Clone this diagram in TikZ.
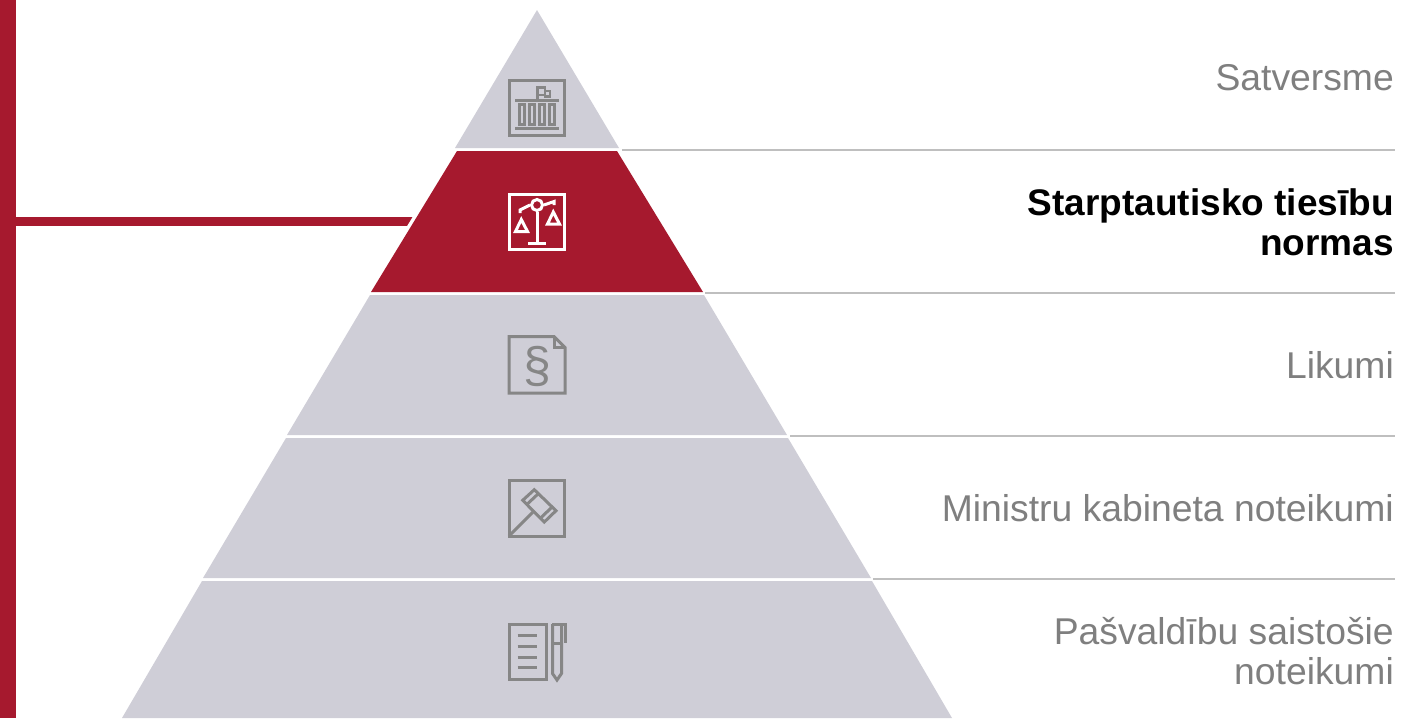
\documentclass[tikz,border=0pt]{standalone}
\usepackage{amsmath,fontspec}
\setmainfont{Liberation Sans}
\definecolor{lawred}{HTML}{A6192E}
\definecolor{bandgrey}{HTML}{CFCED7}
\definecolor{icongrey}{HTML}{868686}
\definecolor{labelgrey}{HTML}{7F7F7F}
\definecolor{rulegrey}{HTML}{BFBFBF}
\tikzset{
  band/.style={fill=bandgrey},
  level/.style={anchor=east,align=right,text=labelgrey,inner sep=0pt,font=\fontsize{37.3}{40}\selectfont},
  levelrule/.style={draw=rulegrey,line width=2.5pt},
  iconbox/.style={draw,line width=3pt,minimum width=55.5pt,minimum height=55.5pt,inner sep=0pt,outer sep=0pt},
  iconline/.style={line width=3pt,draw=icongrey},
  iconwhite/.style={line width=3pt,draw=white}
}
\begin{document}
\begin{tikzpicture}[x=1pt,y=-1pt]
\useasboundingbox (0,0) rectangle (1422,718);

\node[fill=lawred,minimum width=16pt,minimum height=718pt,inner sep=0pt] (spine) at (8,359) {};
\coordinate (hook) at (420,221.5);
\draw[draw=lawred,line width=8.5pt] (spine.east |- hook) -- (hook);

\fill[lawred,preaction={draw=white,line width=7pt}] (457,151) -- (617,151) -- (703,292) -- (371,292) -- cycle;
\fill[band] (537,10) -- (619,148) -- (455,148) -- cycle;
\fill[band] (370,295) -- (704,295) -- (787,435) -- (287,435) -- cycle;
\fill[band] (286,438) -- (788,438) -- (871,578) -- (203,578) -- cycle;
\fill[band] (202,581) -- (872,581) -- (952,718) -- (122,718) -- cycle;

\begin{scope}[every node/.style={level}]
    \node (l1) at (1394,77.5) {Satversme};
    \node[text=black,font=\fontsize{37}{40}\selectfont\bfseries] (l2) at (1394,222) {Starptautisko tiesību\\normas};
    \node (l3) at (1394,365) {Likumi};
    \node (l4) at (1394,508) {Ministru kabineta noteikumi};
    \node (l5) at (1394,651) {Pašvaldību saistošie\\noteikumi};
\end{scope}

\coordinate (a1) at (622,150);
\coordinate (b1) at (1395,150);
\coordinate (a2) at (705,293);
\coordinate (b2) at (1395,293);
\coordinate (a3) at (790,436);
\coordinate (b3) at (1395,436);
\coordinate (a4) at (873,579);
\coordinate (b4) at (1395,579);
\draw[levelrule] (a1) -- (b1);
\draw[levelrule] (a2) -- (b2);
\draw[levelrule] (a3) -- (b3);
\draw[levelrule] (a4) -- (b4);

\node[iconbox,draw=icongrey] (i1) at (537,108) {};
\draw[iconline] (515,100) -- (559,100);
\draw[iconline] (515,128) -- (559,128);
\draw[iconline] (519,104.5) rectangle (524.5,124.5);
\draw[iconline] (529,104.5) rectangle (534.5,124.5);
\draw[iconline] (539,104.5) rectangle (544.5,124.5);
\draw[iconline] (549,104.5) rectangle (554.5,124.5);
\draw[iconline,line width=2.5pt] (537.5,100) -- (537.5,87.5) -- (545,87.5) -- (545,95) -- (537.5,95);
\draw[iconline,line width=2.5pt] (545,91) -- (550,91) -- (550,96.5) -- (545,96.5) -- (545,95);

\node[iconbox,draw=white] (i2) at (537,222) {};
\node[circle,draw=white,line width=3pt,minimum size=11pt,inner sep=0pt] (pivot) at (537,205) {};
\draw[iconwhite] (pivot.south) -- (537,243.5);
\draw[iconwhite] (528,243.5) -- (546,243.5);
\draw[iconwhite] (pivot.west) -- (520,210) -- (520,213);
\draw[iconwhite] (pivot.east) -- (554,201.5) -- (554,205);
\draw[iconwhite] (521.3,219.5) -- (515.5,231.5) -- (527.5,231.5) -- cycle;
\draw[iconwhite] (553.3,212) -- (547.5,224) -- (559.5,224) -- cycle;

\draw[iconline] (554,336.5) -- (509,336.5) -- (509,393) -- (565,393) -- (565,347.5) -- cycle;
\draw[iconline] (554,336.5) -- (554,347.5) -- (565,347.5);
\node[text=icongrey,font=\fontsize{50}{50}\selectfont,inner sep=0pt] (i3) at (537,366) {§};

\node[iconbox,draw=icongrey] (i4) at (537,508.5) {};
\draw[iconline] (509,536) -- (532.7,512.3);
\draw[iconline] (534.3,489.7) -- (556,510.7) -- (544.3,522) -- (522.7,500.3) -- cycle;
\draw[iconline] (538.5,493.5) -- (526.8,504.5);
\draw[iconline] (552,507) -- (540.7,518);

\draw[iconline] (509,624) rectangle (546,679.5);
\draw[iconline] (517.5,635) -- (536.5,635);
\draw[iconline] (517.5,646) -- (536.5,646);
\draw[iconline] (517.5,657) -- (536.5,657);
\draw[iconline] (517.5,667.5) -- (536.5,667.5);
\draw[iconline] (552.5,624) -- (552.5,673.5) -- (557,680) -- (561.5,673.5) -- (561.5,624);
\draw[iconline] (552,624) -- (565,624) -- (565,643);
\draw[iconline] (552.5,643) -- (561.5,643);
\end{tikzpicture}
\end{document}
